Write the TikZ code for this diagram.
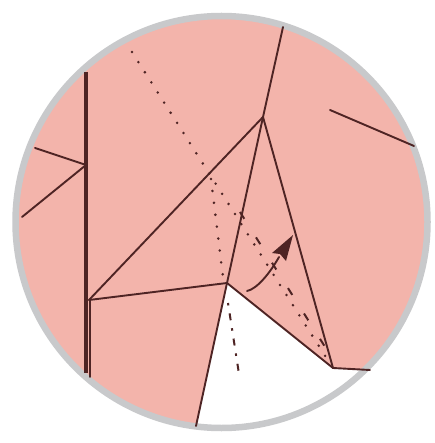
\documentclass[tikz,border=0pt]{standalone}
\usetikzlibrary{calc}
\definecolor{paper}{RGB}{243,180,171}
\definecolor{ink}{RGB}{78,36,36}
\definecolor{rim}{RGB}{200,201,203}
\begin{document}
\begin{tikzpicture}[x=1pt,y=-1pt,
  crease/.style={ink,line width=1.9pt,line cap=round},
  hiddenline/.style={ink,line width=2.8pt,line cap=round,dash pattern=on 0pt off 12pt},
  valleyline/.style={ink,line width=2pt,dash pattern=on 8pt off 22pt},
  mountainline/.style={ink,line width=2pt,dash pattern=on 2.5pt off 8pt on 7pt off 8pt},
  arrowtip/.style={fill=ink}]
\useasboundingbox (0,0) rectangle (434,443);
\fill[white] (0,0) rectangle (434,443);

% key points of the fold
\coordinate (O)  at (221.5,222);
\coordinate (P)  at (263,117);
\coordinate (Top) at (283,27);
\coordinate (T)  at (227,283);
\coordinate (Q)  at (333,368);
\coordinate (R)  at (370,370);
\coordinate (B)  at (196,426);
\coordinate (J)  at (89,300);
\coordinate (V1) at (86,72);
\coordinate (V2) at (86,373);
\coordinate (W1) at (90,300);
\coordinate (W2) at (90,377);
\coordinate (K)  at (86,165);
\coordinate (L1) at (35,148);
\coordinate (L2) at (22,217);
\coordinate (E1) at (330,110);
\coordinate (E2) at (414,146);
\coordinate (D1) at (132,52);
\coordinate (D2) at (329,362);
\coordinate (F1) at (211,179);
\coordinate (F2) at (223,277);
\coordinate (G1) at (240,212);
\coordinate (G2) at (327,350);
\coordinate (M1) at (228,303);
\coordinate (M2) at (239,374);
\coordinate (A1) at (247,291);
\coordinate (A2) at (279,257);

% paper and the uncovered wedge
\begin{scope}
  \clip (O) circle (206);
  \fill[paper] (O) circle (206);
  \fill[white] (185,480) -- (T) -- (Q) -- (R) -- (450,370) -- (450,480) -- cycle;
\end{scope}
\draw[rim,line width=6.5pt] (O) circle (206);

% edges
\draw[ink,line width=3.2pt] (V1) -- (V2);
\draw[crease] (W1) -- (W2);
\draw[crease] (L1) -- (K);
\draw[crease] (L2) -- (K);
\draw[crease] (Top) -- (P);
\draw[crease] (P) -- (J);
\draw[crease] (P) -- (B);
\draw[crease] (P) -- (Q);
\draw[crease] (T) -- (Q) -- (R);
\draw[crease] (J) -- (T);
\draw[crease] (E1) -- (E2);

% hidden lines and folds
\draw[hiddenline] (D1) -- (D2);
\draw[hiddenline] (F1) -- (F2);
\draw[valleyline] (G1) -- (G2);
\draw[mountainline] (M1) -- (M2);

% folding arrow
\draw[crease] (A1) .. controls (257,289) and (270,273) .. (A2);
\fill[arrowtip] (293,235) -- (272,253) -- (280,254) -- (286,261) -- cycle;
\end{tikzpicture}
\end{document}
